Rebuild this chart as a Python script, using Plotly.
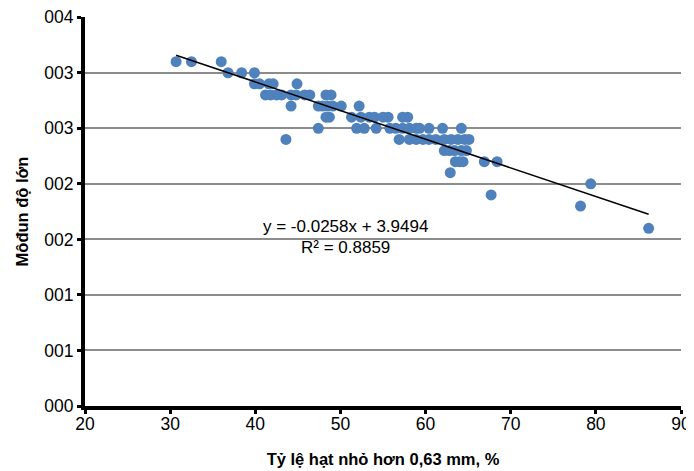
import plotly.graph_objects as go

# scatter data, grouped by y level: (y value, x values)
rows = [
    (3.1, [30.7, 32.5, 36.0]),
    (3.0, [36.8, 38.4, 39.9]),
    (2.9, [39.9, 40.5, 41.6, 42.1, 44.9]),
    (2.8, [41.2, 41.8, 42.5, 43.1, 44.2, 44.8, 45.8, 46.4, 48.3, 48.9]),
    (2.7, [44.2, 47.4, 47.9, 48.5, 49.1, 50.1, 52.2]),
    (2.6, [48.3, 48.7, 51.3, 52.4, 53.4, 54.0, 55.0, 55.6, 57.3, 57.9]),
    (2.5, [47.4, 51.9, 52.8, 54.2, 55.8, 56.5, 57.3, 58.1, 58.9, 59.3, 60.4, 62.0, 64.2]),
    (2.4, [43.6, 56.9, 58.1, 58.9, 59.7, 60.4, 61.2, 62.2, 63.0, 63.8, 64.6, 65.1]),
    (2.3, [62.2, 62.8, 63.4, 64.2, 64.8]),
    (2.2, [63.5, 64.0, 64.4, 66.9, 68.4]),
    (2.1, [62.9]),
    (2.0, [79.4]),
    (1.9, [67.7]),
    (1.8, [78.2]),
    (1.6, [86.2]),
]

x_vals = [x for y, xs in rows for x in xs]
y_vals = [y for y, xs in rows for x in xs]

# linear trend from the chart
slope = -0.0258
intercept = 3.9494
r2 = 0.8859

y_ticks = [0, 0.5, 1.0, 1.5, 2.0, 2.5, 3.0, 3.5]
y_ticktext = ["000", "001", "001", "002", "002", "003", "003", "004"]

FONT = "Liberation Sans, Arial"

fig = go.Figure()

fig.add_trace(go.Scatter(
    x=x_vals, y=y_vals, mode="markers",
    marker=dict(color="#4F81BD", size=11, line=dict(width=0)),
    showlegend=False,
))

x_line = [min(x_vals), max(x_vals)]
y_line = [slope * x + intercept for x in x_line]
fig.add_trace(go.Scatter(
    x=x_line, y=y_line, mode="lines",
    line=dict(color="black", width=1.6),
    showlegend=False,
))

fig.add_annotation(
    x=50.6, y=1.614, xref="x", yref="y",
    text="y = %.4fx + %.4f" % (slope, intercept),
    showarrow=False, font=dict(family=FONT, size=17, color="black"),
)
fig.add_annotation(
    x=50.6, y=1.425, xref="x", yref="y",
    text="R² = %.4f" % r2,
    showarrow=False, font=dict(family=FONT, size=17, color="black"),
)

fig.update_xaxes(
    range=[20, 90], dtick=10, tick0=20,
    showline=True, linecolor="black", linewidth=4,
    ticks="outside", ticklen=4, tickwidth=3, tickcolor="black",
    ticklabelstandoff=-5, ticklabeloverflow="allow",
    showgrid=False, zeroline=False, automargin=False,
    tickfont=dict(family=FONT, size=17.5, color="black"),
    title=dict(text="<b>Tỷ lệ hạt nhỏ hơn 0,63 mm, %</b>",
               font=dict(family=FONT, size=16.5, color="black"),
               standoff=21),
)
fig.update_yaxes(
    range=[0, 3.502], tickvals=y_ticks, ticktext=y_ticktext,
    showline=True, linecolor="black", linewidth=4,
    ticks="outside", ticklen=4, tickwidth=3, tickcolor="black",
    ticklabeloverflow="allow",
    showgrid=True, gridcolor="#8c8c8c", gridwidth=2, zeroline=False,
    automargin=False,
    tickfont=dict(family=FONT, size=17.5, color="black"),
    title=dict(text="<b>Môđun độ lớn</b>",
               font=dict(family=FONT, size=16.5, color="black"),
               standoff=13),
)

# page body adds an 8px offset, so the figure is sized to fit inside the window
fig.update_layout(
    width=686, height=463,
    margin=dict(l=77, r=13, t=9, b=65),
    plot_bgcolor="white", paper_bgcolor="white",
)

fig.write_html("out.html")
